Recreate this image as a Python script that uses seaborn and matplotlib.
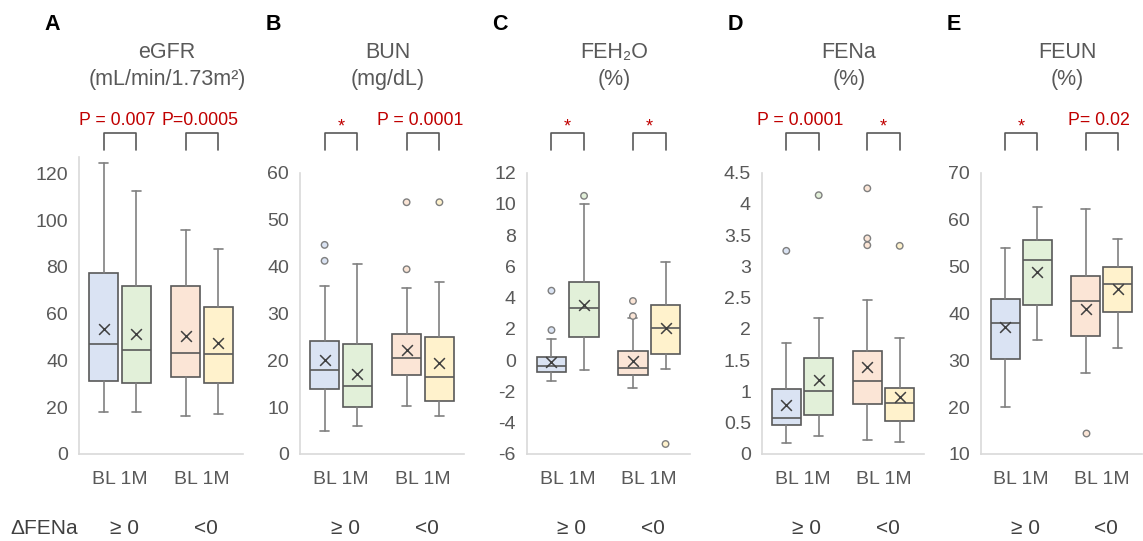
import numpy as np
import pandas as pd
import matplotlib
matplotlib.use("Agg")
import matplotlib.pyplot as plt
import matplotlib.transforms as mtransforms
from matplotlib.ticker import FuncFormatter
import seaborn as sns

# box order in every panel: BL(>=0), 1M(>=0), BL(<0), 1M(<0)
# each row: [lower whisker, Q1, median, Q3, upper whisker, mean]
egfr_stats = [[18.1, 31.2, 47.0, 77.2, 124.3, 53.3],
              [18.1, 30.2, 44.5, 72.0, 112.6, 51.2],
              [16.4, 32.8, 43.3, 72.0, 95.8, 50.4],
              [17.0, 30.2, 42.6, 63.0, 87.5, 47.3]]
egfr_out = [[], [], [], []]

bun_stats = [[4.8, 13.8, 17.9, 24.0, 35.8, 20.0],
             [6.0, 10.1, 14.4, 23.4, 40.5, 17.0],
             [10.2, 16.8, 20.4, 25.7, 35.5, 22.2],
             [8.0, 11.4, 16.5, 25.0, 36.6, 19.5]]
bun_out = [[41.2, 44.6], [], [39.4, 53.7], [53.7]]

feh2o_stats = [[-1.31, -0.74, -0.37, 0.18, 1.33, -0.10],
               [-0.63, 1.46, 3.32, 5.02, 9.97, 3.53],
               [-1.76, -0.95, -0.52, 0.59, 2.68, -0.03],
               [-0.59, 0.40, 2.04, 3.53, 6.26, 2.08]]
feh2o_out = [[1.93, 4.45], [10.52], [2.83, 3.79], [-5.36]]

fena_stats = [[0.18, 0.46, 0.58, 1.04, 1.77, 0.79],
              [0.29, 0.63, 1.00, 1.53, 2.18, 1.18],
              [0.22, 0.80, 1.16, 1.64, 2.46, 1.39],
              [0.19, 0.53, 0.81, 1.06, 1.86, 0.91]]
fena_out = [[3.25], [4.14], [3.34, 3.45, 4.25], [3.33]]

feun_stats = [[20.0, 30.3, 37.9, 43.0, 54.0, 37.0],
              [34.3, 41.7, 51.4, 55.6, 62.6, 48.9],
              [27.3, 35.2, 42.6, 48.0, 62.2, 40.9],
              [32.7, 40.2, 46.2, 49.8, 55.8, 45.3]]
feun_out = [[], [], [14.4], []]

panel_letters = ["A", "B", "C", "D", "E"]
titles = [["eGFR", "(mL/min/1.73m²)"], ["BUN", "(mg/dL)"], ["FEH₂O", "(%)"],
          ["FENa", "(%)"], ["FEUN", "(%)"]]
p_labels = [["P = 0.007", "P=0.0005"], ["*", "P = 0.0001"], ["*", "*"],
            ["P = 0.0001", "*"], ["*", "P= 0.02"]]
y_ticks = [np.arange(0, 121, 20), np.arange(0, 61, 10), np.arange(-6, 13, 2),
           np.arange(0, 4.51, 0.5), np.arange(10, 71, 10)]
x_labels = ["BL 1M", "BL 1M"]
group_labels = ["≥ 0", "<0"]
box_colors = ["#DAE3F3", "#E2F0D9", "#FBE5D6", "#FFF2CC"]

all_stats = [egfr_stats, bun_stats, feh2o_stats, fena_stats, feun_stats]
all_out = [egfr_out, bun_out, feh2o_out, fena_out, feun_out]

# pixel layout of each plot area (left, right, top)
W, H = 1143, 541
areas = [(79, 243, 157), (300, 464, 172.7), (527, 690, 172.7), (762, 924, 172.7), (981, 1142, 172.7)]
ylims = [(0, 127), (0, 60), (-6, 12), (0, 4.5), (10, 70)]
bottom_px = 454

sns.set_theme(style="white")
plt.rcParams["font.family"] = ["Liberation Sans", "DejaVu Sans"]
grey = "#595959"

fig = plt.figure(figsize=(W / 100, H / 100), dpi=100)

positions = np.array([-0.2, 0.2, 0.8, 1.2])

for i in range(5):
    l, r, t = areas[i]
    ax = fig.add_axes([l / W, 1 - bottom_px / H, (r - l) / W, (bottom_px - t) / H])
    stats = all_stats[i]
    bxp_stats = [dict(whislo=s[0], q1=s[1], med=s[2], q3=s[3], whishi=s[4], fliers=[]) for s in stats]
    parts = ax.bxp(bxp_stats, positions=positions, widths=0.36, patch_artist=True,
                   showfliers=False, capwidths=0.11,
                   boxprops=dict(edgecolor=grey, linewidth=1.2),
                   whiskerprops=dict(color="#808080", linewidth=1.2),
                   capprops=dict(color="#808080", linewidth=1.2),
                   medianprops=dict(color=grey, linewidth=1.2))
    for b, c in zip(parts["boxes"], box_colors):
        b.set_facecolor(c)

    means = pd.DataFrame({"x": positions, "y": [s[5] for s in stats]})
    sns.scatterplot(data=means, x="x", y="y", marker="x", color="#404040", s=60,
                    linewidth=1.1, ax=ax, zorder=5)

    rows = []
    for k, vals in enumerate(all_out[i]):
        for v in vals:
            rows.append({"x": positions[k], "y": v, "s": k})
    if rows:
        outs = pd.DataFrame(rows)
        sns.scatterplot(data=outs, x="x", y="y", hue="s", palette=dict(enumerate(box_colors)),
                        edgecolor="#7F7F7F", linewidth=1.0, s=22, legend=False, ax=ax, zorder=5)

    ax.set_xlim(-0.5, 1.5)
    ax.set_ylim(*ylims[i])
    ax.set_yticks(y_ticks[i])
    ax.yaxis.set_major_formatter(FuncFormatter(lambda v, p: f"{v:g}"))
    ax.set_xticks([0, 1])
    ax.set_xticklabels(x_labels)
    ax.tick_params(axis="both", length=0, labelsize=14, labelcolor=grey)
    ax.tick_params(axis="x", pad=12)
    ax.tick_params(axis="y", pad=8)
    ax.set_xlabel("")
    ax.set_ylabel("")
    for side in ["top", "right"]:
        ax.spines[side].set_visible(False)
    for side in ["left", "bottom"]:
        ax.spines[side].set_color("#D9D9D9")
        ax.spines[side].set_linewidth(1.2)

    # brackets and p-values above plot, x in data coords, y in pixels
    trans = mtransforms.blended_transform_factory(ax.transData, fig.transFigure)
    for g in range(2):
        x0, x1 = positions[2 * g], positions[2 * g + 1]
        ax.plot([x0, x0, x1, x1], [1 - 150 / H, 1 - 133 / H, 1 - 133 / H, 1 - 150 / H],
                color=grey, lw=1.2, transform=trans, clip_on=False)
        lab = p_labels[i][g]
        if lab == "*":
            ax.text(g, 1 - 127 / H, lab, color="#C00000", fontsize=13, ha="center",
                    va="center", transform=trans)
        else:
            ax.text(g - 0.03, 1 - 121 / H, lab, color="#C00000", fontsize=12.8, ha="center",
                    va="center", transform=trans)
        ax.text(g + 0.05, 1 - 529 / H, group_labels[g], color="#404040", fontsize=15,
                ha="center", va="center", transform=trans)

    cx = (l + r) / 2 + 6
    fig.text(cx / W, 1 - 52 / H, titles[i][0], fontsize=15.5, color=grey, ha="center", va="center")
    fig.text(cx / W, 1 - 79 / H, titles[i][1], fontsize=15.5, color=grey, ha="center", va="center")
    fig.text((l - 27) / W, 1 - 25 / H, panel_letters[i], fontsize=15.5, fontweight="bold",
             color="black", ha="center", va="center")

fig.text(44 / W, 1 - 529 / H, "ΔFENa", fontsize=15, color="#404040", ha="center", va="center")

fig.savefig("out.png", dpi=100)
